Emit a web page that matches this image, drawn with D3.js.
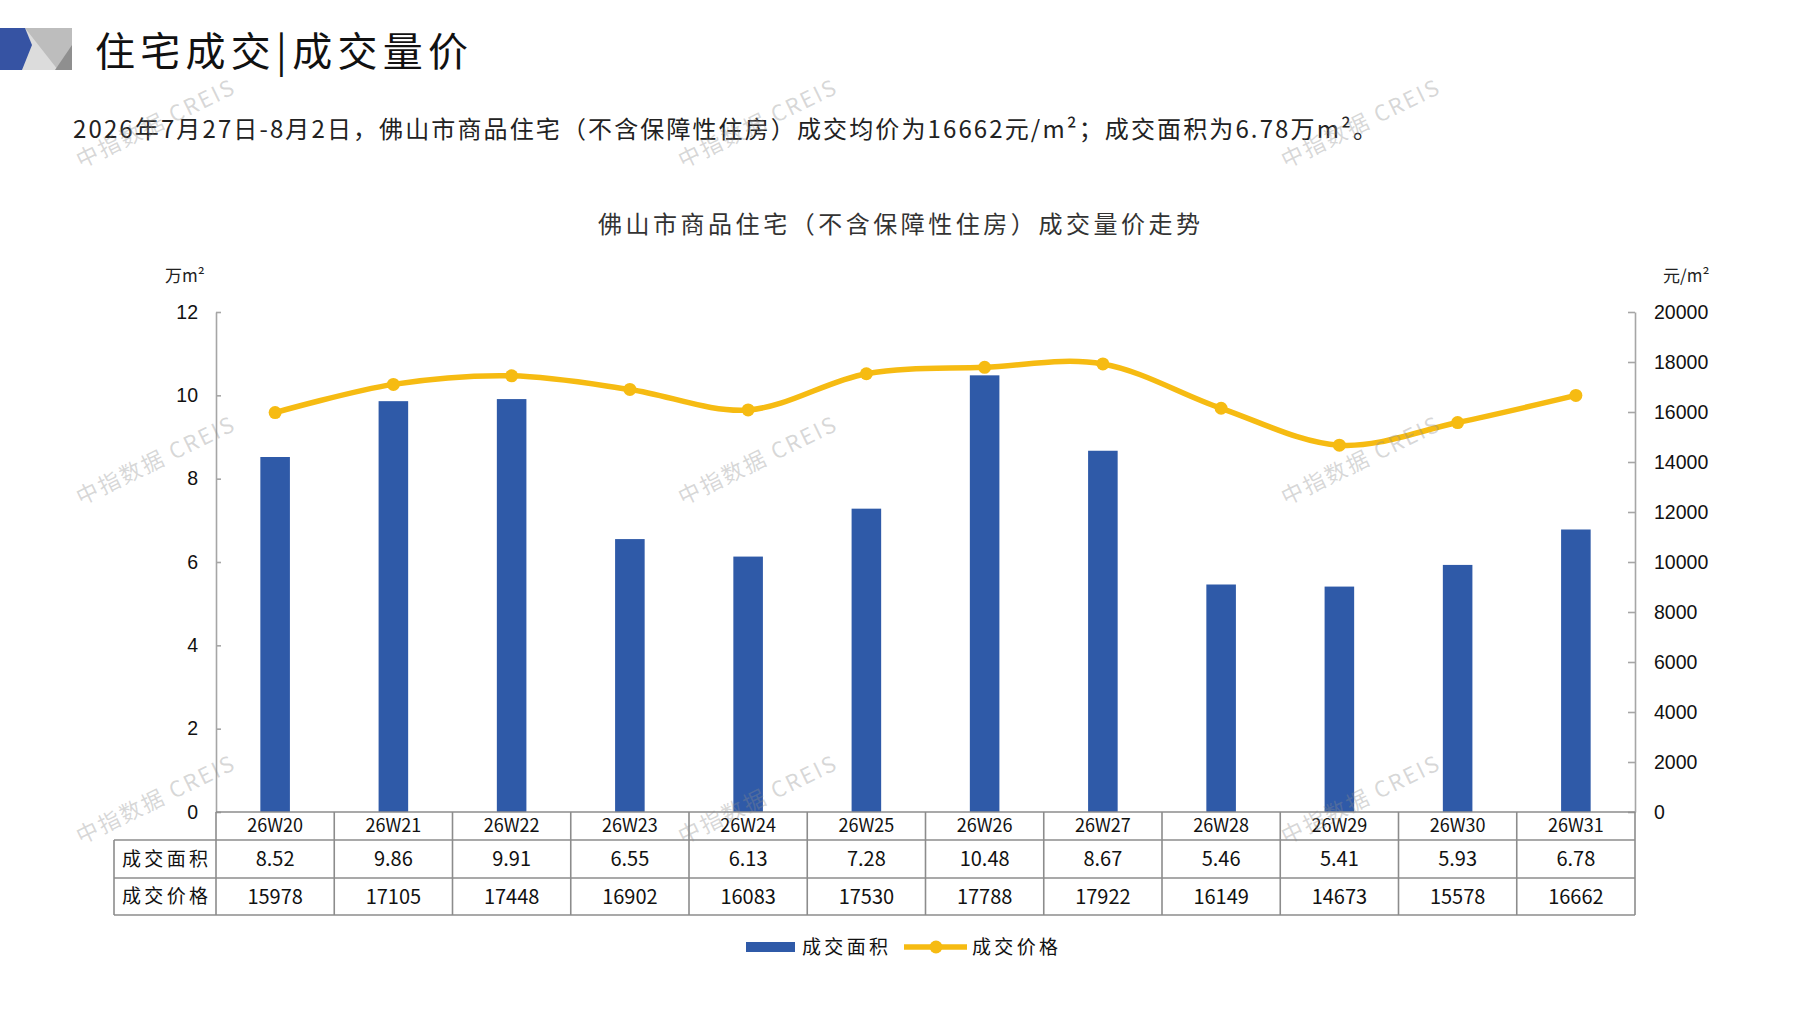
<!DOCTYPE html>
<html lang="zh">
<head>
<meta charset="UTF-8">
<title>佛山市商品住宅成交量价走势</title>
<script src="https://d3js.org/d3.v7.min.js"></script>
<style>
  html, body { margin: 0; padding: 0; background: #fff; }
  svg { display: block; }
  text { font-family: "Noto Sans CJK SC", "Noto Sans", sans-serif; }
</style>
</head>
<body>
<div id="chart"></div>
<script>
// data
var weeks = ['26W20', '26W21', '26W22', '26W23', '26W24', '26W25', '26W26', '26W27', '26W28', '26W29', '26W30', '26W31'];
var areaValues = [8.52, 9.86, 9.91, 6.55, 6.13, 7.28, 10.48, 8.67, 5.46, 5.41, 5.93, 6.78];
var priceValues = [15978, 17105, 17448, 16902, 16083, 17530, 17788, 17922, 16149, 14673, 15578, 16662];
var areaTicks = [0, 2, 4, 6, 8, 10, 12];
var priceTicks = [0, 2000, 4000, 6000, 8000, 10000, 12000, 14000, 16000, 18000, 20000];
var rowLabels = ['成交面积', '成交价格'];

var width = 1797, height = 1010;
var barColor = '#2f5aa8', lineColor = '#f6bb12', gridGrey = '#8c8c8c';

var svg = d3.select('#chart').append('svg')
    .attr('width', width)
    .attr('height', height);

// plot area
var plotLeft = 216, plotRight = 1635, plotTop = 312, plotBottom = 812;

var x = d3.scaleBand().domain(weeks).range([plotLeft, plotRight]).padding(0);
var yArea = d3.scaleLinear().domain([0, 12]).range([plotBottom, plotTop]);
var yPrice = d3.scaleLinear().domain([0, 20000]).range([plotBottom, plotTop]);

// header logo
var logo = svg.append('g');
logo.append('rect').attr('x', 20).attr('y', 28).attr('width', 52).attr('height', 42).attr('fill', '#dcdcdc');
logo.append('polygon').attr('points', '25,28 72,28 72,52 58,70').attr('fill', '#bdbdbd');
logo.append('polygon').attr('points', '72,45 72,70 55,70').attr('fill', '#8f8f8f');
logo.append('polygon').attr('points', '0,28 25,28 32,45 22,70 0,70').attr('fill', '#3653a3');

svg.append('text')
    .attr('x', 95).attr('y', 66)
    .attr('textLength', 373).attr('lengthAdjust', 'spacing')
    .style('font-size', '40px').attr('fill', '#111')
    .text('住宅成交|成交量价');

svg.append('text')
    .attr('x', 73).attr('y', 138)
    .attr('textLength', 1304).attr('lengthAdjust', 'spacing')
    .style('font-size', '24px').attr('fill', '#222')
    .text('2026年7月27日-8月2日，佛山市商品住宅（不含保障性住房）成交均价为16662元/m²；成交面积为6.78万m²。');

// chart title
svg.append('text')
    .attr('x', 598).attr('y', 233)
    .attr('textLength', 602).attr('lengthAdjust', 'spacing')
    .style('font-size', '24px').attr('fill', '#333')
    .text('佛山市商品住宅（不含保障性住房）成交量价走势');

// units
svg.append('text').attr('x', 165).attr('y', 282)
    .style('font-size', '17px').attr('fill', '#222').text('万m²');
svg.append('text').attr('x', 1663).attr('y', 282)
    .style('font-size', '17px').attr('fill', '#222').text('元/m²');

// left axis
var leftAxis = svg.append('g')
    .attr('transform', 'translate(' + plotLeft + ',0)')
    .call(d3.axisLeft(yArea).tickValues(areaTicks).tickSizeInner(-5).tickSizeOuter(0).tickPadding(18));

// right axis
var rightAxis = svg.append('g')
    .attr('transform', 'translate(' + plotRight + ',0)')
    .call(d3.axisRight(yPrice).tickValues(priceTicks).tickFormat(d3.format('d'))
        .tickSizeInner(-7).tickSizeOuter(0).tickPadding(19));

[leftAxis, rightAxis].forEach(function (a) {
    a.select('.domain').attr('stroke', '#a6a6a6').attr('stroke-width', 1.6);
    a.selectAll('.tick line').attr('stroke', '#a6a6a6').attr('stroke-width', 1.6);
    a.selectAll('.tick text')
        .style('font-family', '"Liberation Sans", Arial, sans-serif')
        .style('font-size', '19.5px')
        .attr('fill', '#111');
});

// bars
var barW = x.bandwidth() * 0.25;
svg.append('g').selectAll('rect')
    .data(weeks)
    .enter().append('rect')
    .attr('x', function (d) { return x(d) + (x.bandwidth() - barW) / 2; })
    .attr('y', function (d, i) { return yArea(areaValues[i]); })
    .attr('width', barW)
    .attr('height', function (d, i) { return plotBottom - yArea(areaValues[i]); })
    .attr('fill', barColor);

// price line
var line = d3.line()
    .x(function (d, i) { return x(weeks[i]) + x.bandwidth() / 2; })
    .y(function (d) { return yPrice(d); })
    .curve(d3.curveCardinal.tension(0));

svg.append('path')
    .datum(priceValues)
    .attr('d', line)
    .attr('fill', 'none')
    .attr('stroke', lineColor)
    .attr('stroke-width', 5.5)
    .attr('stroke-linecap', 'round');

svg.append('g').selectAll('circle')
    .data(priceValues)
    .enter().append('circle')
    .attr('cx', function (d, i) { return x(weeks[i]) + x.bandwidth() / 2; })
    .attr('cy', function (d) { return yPrice(d); })
    .attr('r', 6.5)
    .attr('fill', lineColor);

// data table under the axis
var rowTops = [812, 840, 878, 915];
var labelLeft = 114;
var table = svg.append('g');

// header row (categories) only spans the plot columns
table.append('line').attr('x1', plotLeft).attr('x2', plotRight).attr('y1', rowTops[0]).attr('y2', rowTops[0]);
table.append('line').attr('x1', labelLeft).attr('x2', plotRight).attr('y1', rowTops[1]).attr('y2', rowTops[1]);
table.append('line').attr('x1', labelLeft).attr('x2', plotRight).attr('y1', rowTops[2]).attr('y2', rowTops[2]);
table.append('line').attr('x1', labelLeft).attr('x2', plotRight).attr('y1', rowTops[3]).attr('y2', rowTops[3]);
table.append('line').attr('x1', labelLeft).attr('x2', labelLeft).attr('y1', rowTops[1]).attr('y2', rowTops[3]);
var colEdges = weeks.map(function (d) { return x(d); }).concat([plotRight]);
table.selectAll('.col-line')
    .data(colEdges)
    .enter().append('line')
    .attr('class', 'col-line')
    .attr('x1', function (d) { return d; })
    .attr('x2', function (d) { return d; })
    .attr('y1', rowTops[0])
    .attr('y2', rowTops[3]);
table.selectAll('line').attr('stroke', gridGrey).attr('stroke-width', 1.6);

table.selectAll('.head')
    .data(weeks)
    .enter().append('text')
    .attr('x', function (d) { return x(d) + x.bandwidth() / 2; })
    .attr('y', (rowTops[0] + rowTops[1]) / 2)
    .attr('dy', '0.36em')
    .attr('text-anchor', 'middle')
    .style('font-size', '18px').attr('fill', '#111')
    .text(function (d) { return d; });

var rows = [areaValues.map(d3.format('.2f')), priceValues.map(String)];
rows.forEach(function (vals, r) {
    var cy = (rowTops[r + 1] + rowTops[r + 2]) / 2;
    table.append('text')
        .attr('x', (labelLeft + plotLeft) / 2)
        .attr('y', cy).attr('dy', '0.36em')
        .attr('text-anchor', 'middle')
        .attr('textLength', 86).attr('lengthAdjust', 'spacing')
        .style('font-size', '19px').attr('fill', '#111')
        .text(rowLabels[r]);
    table.selectAll('.v' + r)
        .data(vals)
        .enter().append('text')
        .attr('x', function (d, i) { return x(weeks[i]) + x.bandwidth() / 2; })
        .attr('y', cy).attr('dy', '0.36em')
        .attr('text-anchor', 'middle')
        .style('font-size', '20px').attr('fill', '#111')
        .text(function (d) { return d; });
});

// legend
var legend = svg.append('g');
legend.append('rect').attr('x', 746).attr('y', 942).attr('width', 49).attr('height', 10).attr('fill', barColor);
legend.append('text').attr('x', 802).attr('y', 954)
    .attr('textLength', 86).attr('lengthAdjust', 'spacing')
    .style('font-size', '19px').attr('fill', '#111').text(rowLabels[0]);
legend.append('line').attr('x1', 904).attr('x2', 967).attr('y1', 947).attr('y2', 947)
    .attr('stroke', lineColor).attr('stroke-width', 5.5);
legend.append('circle').attr('cx', 936).attr('cy', 947).attr('r', 6.5).attr('fill', lineColor);
legend.append('text').attr('x', 972).attr('y', 954)
    .attr('textLength', 86).attr('lengthAdjust', 'spacing')
    .style('font-size', '19px').attr('fill', '#111').text(rowLabels[1]);

// watermarks
var markX = [155, 757, 1360], markY = [124, 461, 800];
markY.forEach(function (my) {
    markX.forEach(function (mx) {
        svg.append('text')
            .attr('transform', 'translate(' + mx + ',' + my + ') rotate(-26)')
            .attr('text-anchor', 'middle').attr('dy', '0.35em')
            .attr('textLength', 172).attr('lengthAdjust', 'spacing')
            .style('font-size', '22px')
            .attr('fill', 'rgba(140,140,140,0.35)')
            .text('中指数据 CREIS');
    });
});
</script>
</body>
</html>
